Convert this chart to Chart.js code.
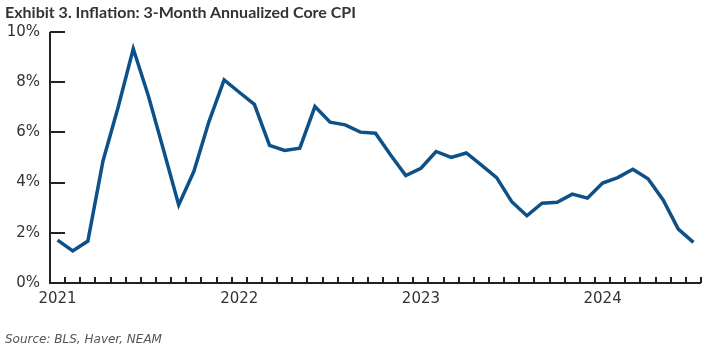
<!DOCTYPE html>
<html>
<head>
<meta charset="utf-8">
<script src="https://cdn.jsdelivr.net/npm/chart.js@4/dist/chart.umd.min.js"></script>
<style>
  html, body { margin: 0; padding: 0; background: #fff; }
  #wrap { position: relative; width: 713px; height: 351px; }
  #title { position: absolute; left: 5px; top: 2px; font: bold 16px Lato, sans-serif; color: #333; white-space: nowrap; }
  #source { position: absolute; left: 5px; top: 332px; font: italic 12px "DejaVu Sans", sans-serif; color: #555; white-space: nowrap; }
  canvas { position: absolute; left: 0; top: 0; }
</style>
</head>
<body>
<div id="wrap">
  <canvas id="c" width="713" height="351"></canvas>
  <div id="title">Exhibit 3. Inflation: 3-Month Annualized Core CPI</div>
  <div id="source">Source: BLS, Haver, NEAM</div>
</div>
<script>
// monthly, Jan 2021 .. Jul 2024
const months = [];
for (let y = 2021; y <= 2024; y++) {
  for (let m = 1; m <= 12; m++) {
    if (y === 2024 && m > 7) break;
    months.push(y + '-' + String(m).padStart(2, '0'));
  }
}
const coreCpi3m = [
  1.71, 1.28, 1.67, 4.86, 7.0, 9.33, 7.45, 5.3, 3.11, 4.44, 6.43, 8.09,
  7.6, 7.12, 5.48, 5.28, 5.37, 7.03, 6.41, 6.3, 6.01, 5.97, 5.1, 4.28,
  4.57, 5.24, 5.0, 5.18, 4.7, 4.2, 3.24, 2.68, 3.18, 3.22, 3.54, 3.38,
  3.98, 4.2, 4.53, 4.15, 3.31, 2.15, 1.62
];
const yTicks = [0, 2, 4, 6, 8, 10];

const axisColor = '#222';
const tickFont = { family: 'DejaVu Sans', size: 15 };

// axis lines + inward tick marks
const innerTicks = {
  id: 'innerTicks',
  afterDatasetsDraw(chart) {
    const { ctx, chartArea: a, scales: { x, y } } = chart;
    ctx.save();
    ctx.strokeStyle = axisColor;
    ctx.lineWidth = 2;
    ctx.beginPath();
    ctx.moveTo(a.left, y.getPixelForValue(10));
    ctx.lineTo(a.left, a.bottom);
    ctx.lineTo(a.right, a.bottom);
    for (const v of yTicks) {
      const py = Math.round(y.getPixelForValue(v));
      ctx.moveTo(a.left, py);
      ctx.lineTo(a.left + 15, py);
    }
    const step = x.getPixelForValue(1) - x.getPixelForValue(0);
    for (let i = 0; i <= months.length; i++) {
      const px = Math.round(x.getPixelForValue(i) - step / 2);
      ctx.moveTo(px, a.bottom);
      ctx.lineTo(px, a.bottom - 6);
    }
    ctx.stroke();
    ctx.restore();
  }
};

new Chart(document.getElementById('c'), {
  type: 'line',
  data: {
    labels: months,
    datasets: [{
      data: coreCpi3m,
      borderColor: '#0d5188',
      borderWidth: 3.5,
      pointRadius: 0,
      tension: 0,
      borderJoinStyle: 'miter',
      fill: false,
    }]
  },
  options: {
    responsive: false,
    animation: false,
    layout: { padding: { left: 0, right: 12, top: 32, bottom: 40 } },
    plugins: { legend: { display: false }, tooltip: { enabled: false } },
    scales: {
      x: {
        type: 'category',
        offset: true,
        grid: { display: false, drawTicks: false },
        border: { display: false },
        ticks: {
          autoSkip: false,
          maxRotation: 0,
          padding: 7,
          color: '#333',
          font: tickFont,
          callback: (v, i) => months[i].endsWith('-01') ? months[i].slice(0, 4) : ''
        },
        afterFit: s => { s.height = 28; }
      },
      y: {
        min: 0,
        max: 10,
        afterBuildTicks: s => { s.ticks = yTicks.map(v => ({ value: v })); },
        grid: { display: false, drawTicks: false },
        border: { display: false },
        ticks: {
          padding: 10,
          color: '#333',
          font: tickFont,
          callback: v => v + '%'
        },
        afterFit: s => { s.width = 50; }
      }
    }
  },
  plugins: [innerTicks]
});
</script>
</body>
</html>
